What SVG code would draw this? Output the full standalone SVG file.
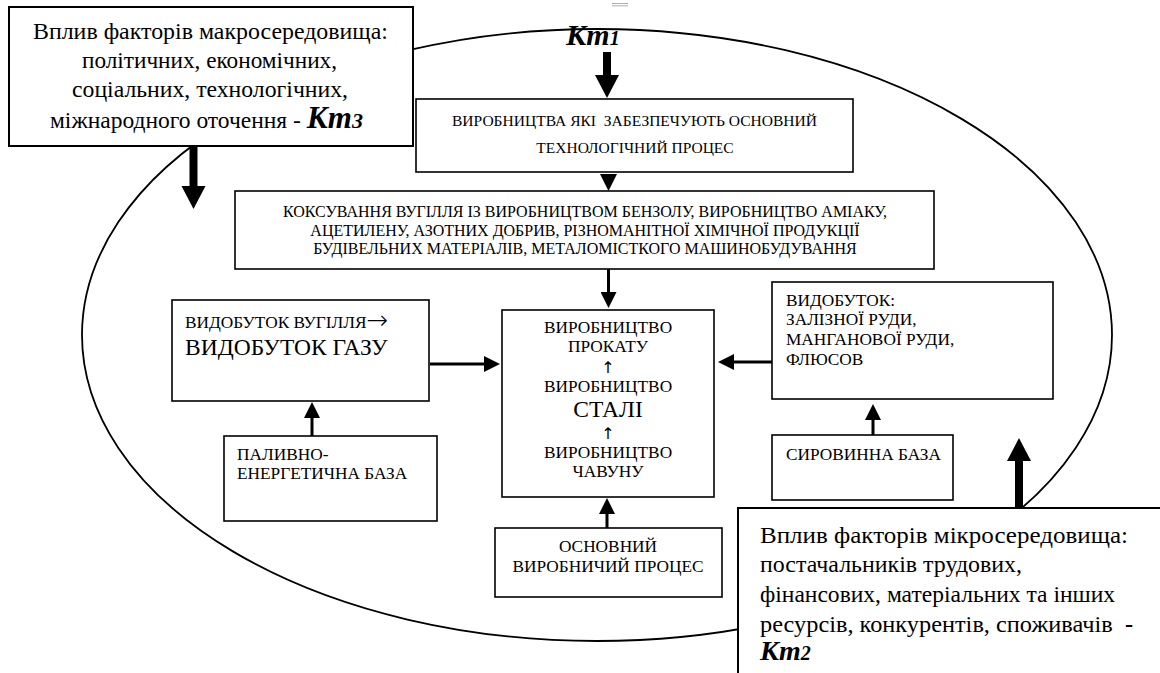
<svg xmlns="http://www.w3.org/2000/svg" width="1160" height="673" viewBox="0 0 1160 673">
<style>
text{font-family:"Liberation Serif","Times New Roman",serif;fill:#000}
.box{fill:#fff;stroke:#000;stroke-width:1.6}
.bigbox{fill:#fff;stroke:#000;stroke-width:2}
.s{font-size:17.3px}
.t{font-size:16px}
.u{font-size:15.5px}
.m{font-size:23.5px}
.k{font-weight:bold;font-style:italic}
.c{text-anchor:middle}
.ar{font-family:"DejaVu Sans",sans-serif}
.thin{stroke:#000;stroke-width:3;fill:none}
.thick{stroke:#000;stroke-width:8;fill:none}
</style>
<defs>
<marker id="ah" markerUnits="userSpaceOnUse" markerWidth="17" markerHeight="16" refX="1" refY="8" orient="auto">
<path d="M0,0 L16,8 L0,16 z" fill="#000"/>
</marker>
<marker id="bh" markerUnits="userSpaceOnUse" markerWidth="24" markerHeight="25" refX="1" refY="12" orient="auto">
<path d="M0,0 L23,12 L0,24 z" fill="#000"/>
</marker>
</defs>
<rect width="1160" height="673" fill="#fff"/>
<g id="mark"><line x1="612" y1="3.5" x2="628" y2="3.5" stroke="#999" stroke-width="0.8"/><line x1="612" y1="5.8" x2="628" y2="5.8" stroke="#999" stroke-width="0.8"/></g>
<g id="environment"><ellipse cx="597" cy="335" rx="515" ry="306" fill="none" stroke="#000" stroke-width="1.8"/></g>
<g id="kt1"><text x="566" y="45" class="k" font-size="30">Кт<tspan font-size="20">1</tspan></text></g>
<g id="connectors">
<line class="thick" x1="607" y1="52" x2="607" y2="76" marker-end="url(#bh)"/>
<line class="thick" x1="193.5" y1="146" x2="193.5" y2="187" marker-end="url(#bh)"/>
<line class="thick" x1="1019" y1="508" x2="1019" y2="460" marker-end="url(#bh)"/>
<polygon points="600,174 617,174 608.5,191" fill="#000"/>
<line class="thin" x1="608.5" y1="269" x2="608.5" y2="293" marker-end="url(#ah)"/>
<line class="thin" x1="430" y1="364" x2="485" y2="364" marker-end="url(#ah)"/>
<line class="thin" x1="772" y1="362" x2="733" y2="362" marker-end="url(#ah)"/>
<line class="thin" x1="312" y1="436" x2="312" y2="417" marker-end="url(#ah)"/>
<line class="thin" x1="873" y1="435" x2="873" y2="419" marker-end="url(#ah)"/>
<line class="thin" x1="607" y1="528" x2="607" y2="513" marker-end="url(#ah)"/>
</g>
<g id="macro">
<rect class="bigbox" x="9" y="7" width="404" height="139"/>
<text class="m" x="33" y="39" textLength="355" lengthAdjust="spacingAndGlyphs">Вплив факторів макросередовища:</text>
<text class="m" x="82" y="68" textLength="255" lengthAdjust="spacingAndGlyphs">політичних, економічних,</text>
<text class="m" x="72" y="97" textLength="276" lengthAdjust="spacingAndGlyphs">соціальних, технологічних,</text>
<text class="m" x="50" y="128">міжнародного оточення - <tspan class="k" font-size="31">Кт<tspan font-size="22">3</tspan></tspan></text>
</g>
<g id="support">
<rect class="box" x="416" y="99" width="437" height="73"/>
<text class="u" x="452" y="126" textLength="365" lengthAdjust="spacingAndGlyphs" xml:space="preserve">ВИРОБНИЦТВА ЯКІ  ЗАБЕЗПЕЧУЮТЬ ОСНОВНИЙ</text>
<text class="u c" x="635" y="153">ТЕХНОЛОГІЧНИЙ ПРОЦЕС</text>
</g>
<g id="coking">
<rect class="box" x="235" y="191" width="699" height="78"/>
<text class="t c" x="585" y="217">КОКСУВАННЯ ВУГІЛЛЯ ІЗ ВИРОБНИЦТВОМ БЕНЗОЛУ, ВИРОБНИЦТВО АМІАКУ,</text>
<text class="t c" x="585" y="236">АЦЕТИЛЕНУ, АЗОТНИХ ДОБРИВ, РІЗНОМАНІТНОЇ ХІМІЧНОЇ ПРОДУКЦІЇ</text>
<text class="t c" x="585" y="254">БУДІВЕЛЬНИХ МАТЕРІАЛІВ, МЕТАЛОМІСТКОГО МАШИНОБУДУВАННЯ</text>
</g>
<g id="coal">
<rect class="box" x="172" y="300" width="257" height="101"/>
<text class="s" x="185" y="328">ВИДОБУТОК ВУГІЛЛЯ<tspan class="ar" font-size="26" font-weight="200" dy="1">→</tspan></text>
<text class="m" x="185" y="355">ВИДОБУТОК ГАЗУ</text>
</g>
<g id="fuel">
<rect class="box" x="224" y="436" width="213" height="85"/>
<text class="s" x="237" y="460">ПАЛИВНО-</text>
<text class="s" x="237" y="479">ЕНЕРГЕТИЧНА БАЗА</text>
</g>
<g id="core">
<rect class="box" x="502" y="310" width="212" height="187"/>
<text class="s c" x="608" y="333">ВИРОБНИЦТВО</text>
<text class="s c" x="608" y="352">ПРОКАТУ</text>
<text class="ar c" x="608" y="373" font-size="16">↑</text>
<text class="s c" x="608" y="392">ВИРОБНИЦТВО</text>
<text class="m c" x="608" y="417">СТАЛІ</text>
<text class="ar c" x="608" y="439" font-size="16">↑</text>
<text class="s c" x="608" y="458">ВИРОБНИЦТВО</text>
<text class="s c" x="608" y="477">ЧАВУНУ</text>
</g>
<g id="ore">
<rect class="box" x="772" y="282" width="281" height="117"/>
<text class="s" x="786" y="306">ВИДОБУТОК:</text>
<text class="s" x="786" y="325">ЗАЛІЗНОЇ РУДИ,</text>
<text class="s" x="786" y="345">МАНГАНОВОЇ РУДИ,</text>
<text class="s" x="786" y="365">ФЛЮСОВ</text>
</g>
<g id="raw">
<rect class="box" x="772" y="435" width="181" height="65"/>
<text class="s" x="786" y="460">СИРОВИННА БАЗА</text>
</g>
<g id="mainprocess">
<rect class="box" x="495" y="528" width="227" height="69"/>
<text class="s c" x="608" y="552">ОСНОВНИЙ</text>
<text class="s c" x="608" y="572">ВИРОБНИЧИЙ ПРОЦЕС</text>
</g>
<g id="micro">
<rect class="bigbox" x="738" y="508" width="430" height="175"/>
<text class="m" x="760" y="543" textLength="368" lengthAdjust="spacingAndGlyphs">Вплив факторів мікросередовища:</text>
<text class="m" x="760" y="572" textLength="262" lengthAdjust="spacingAndGlyphs">постачальників трудових,</text>
<text class="m" x="760" y="602" textLength="355" lengthAdjust="spacingAndGlyphs">фінансових, матеріальних та інших</text>
<text class="m" x="760" y="632" textLength="373" lengthAdjust="spacingAndGlyphs" xml:space="preserve">ресурсів, конкурентів, споживачів  <tspan font-weight="bold">-</tspan></text>
<text class="k" x="760" y="660" font-size="28">Кт<tspan font-size="20">2</tspan></text>
</g>
</svg>
